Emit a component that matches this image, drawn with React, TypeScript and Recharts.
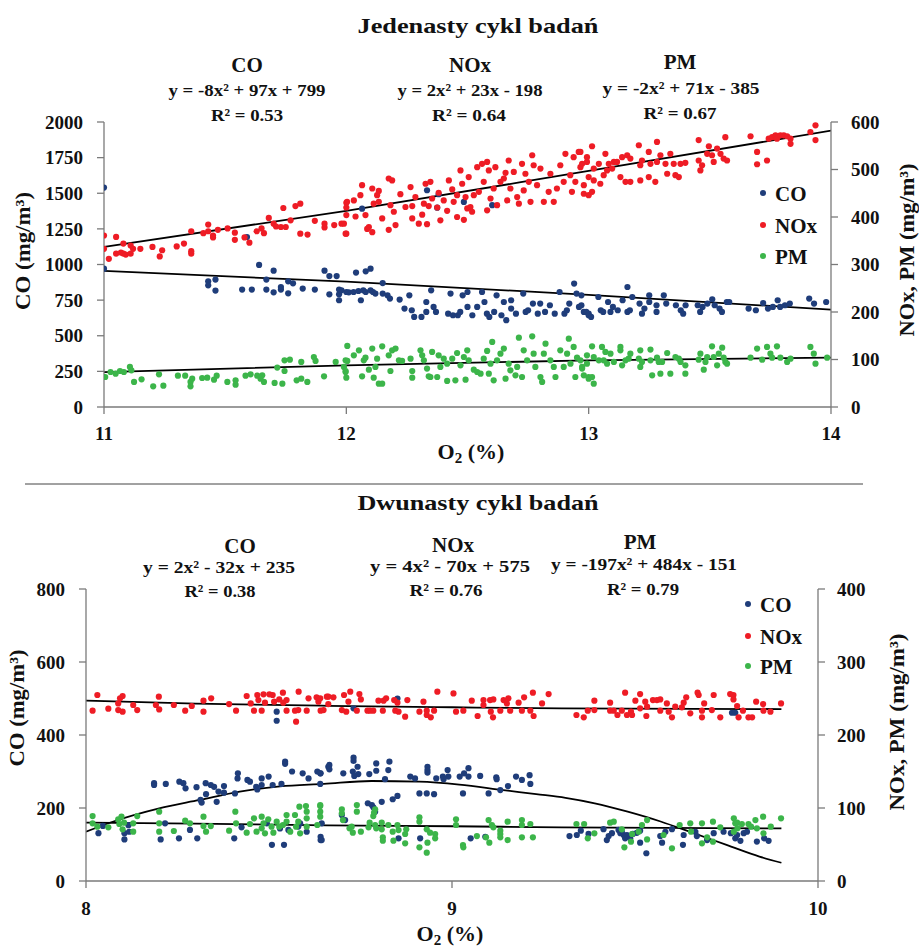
import React from 'react';
import { ComposedChart, Scatter, Line, XAxis, YAxis } from 'recharts';

type P = [number, number];

// ---------- Panel 1: Jedenasty cykl badań ----------
const topXTicks = [11, 12, 13, 14];
const topLeftTicks = [0, 250, 500, 750, 1000, 1250, 1500, 1750, 2000];
const topRightTicks = [0, 100, 200, 300, 400, 500, 600];

const topCO: P[] = [
  [11.0, 1540], [11.0, 971], [11.43, 882], [11.43, 854], [11.46, 894], [11.46, 817], [11.57, 824], [11.61, 824],
  [11.59, 1193], [11.64, 997], [11.67, 894], [11.67, 824], [11.7, 805], [11.7, 957], [11.73, 842], [11.73, 824],
  [11.76, 882], [11.76, 798], [11.78, 868], [11.82, 831], [11.87, 824], [11.91, 957], [11.93, 919], [11.93, 791],
  [11.96, 919], [11.97, 824], [11.97, 791], [11.97, 749], [12.01, 805],
  [12.04, 943], [12.08, 952], [12.1, 971], [11.98, 819], [12.0, 807], [12.03, 807], [12.05, 814], [12.06, 749],
  [12.07, 819], [12.08, 807], [12.1, 819], [12.11, 807], [12.12, 796], [12.15, 870], [12.15, 796], [12.17, 784],
  [12.18, 761], [12.22, 754], [12.24, 691], [12.26, 784], [12.27, 679], [12.28, 632], [12.31, 632], [12.33, 667],
  [12.33, 737], [12.35, 819], [12.36, 702], [12.37, 667], [12.42, 655], [12.43, 796], [12.44, 644], [12.46, 644],
  [12.47, 667], [12.48, 784], [12.5, 807], [12.5, 702], [12.52, 644], [12.54, 702], [12.56, 807], [12.57, 737],
  [12.58, 655], [12.59, 632], [12.61, 667], [12.62, 784], [12.64, 644], [12.65, 737], [12.66, 609], [12.68, 691],
  [12.68, 749], [12.7, 655], [12.73, 796], [12.74, 667], [12.75, 679], [12.77, 726], [12.79, 655], [12.8, 726],
  [12.82, 667], [12.84, 714], [12.86, 655], [12.88, 807], [12.9, 655], [12.91, 679], [12.92, 726], [12.94, 866],
  [12.95, 796], [12.96, 702], [12.98, 667], [13.0, 655],
  [12.065, 1392], [12.333, 1521], [12.381, 1493], [12.375, 1399], [12.485, 1439], [12.602, 1416],
  [12.97, 784], [12.97, 714], [12.99, 667], [13.0, 644], [13.01, 632], [13.04, 772], [13.05, 679], [13.06, 667],
  [13.08, 737], [13.09, 667], [13.1, 702], [13.12, 679], [13.14, 749], [13.16, 842], [13.16, 667], [13.17, 679],
  [13.18, 772], [13.21, 726], [13.22, 655], [13.23, 691], [13.25, 784], [13.25, 737], [13.28, 667], [13.28, 714],
  [13.31, 784], [13.32, 726], [13.36, 714], [13.38, 679], [13.39, 655], [13.4, 714], [13.45, 714], [13.46, 667],
  [13.47, 702], [13.49, 726], [13.51, 756], [13.52, 714], [13.54, 691], [13.55, 667], [13.57, 737], [13.58, 737],
  [13.66, 691], [13.69, 679], [13.72, 730], [13.74, 691], [13.76, 702], [13.78, 749], [13.79, 702], [13.81, 714],
  [13.83, 726], [13.91, 761], [13.93, 726], [13.98, 737],
];

const topNOx: P[] = [
  [11.0, 361], [11.0, 333], [11.02, 312], [11.05, 358], [11.05, 323], [11.07, 325], [11.08, 323], [11.09, 321],
  [11.08, 344], [11.11, 340], [11.11, 323], [11.12, 333], [11.15, 333], [11.2, 337], [11.23, 317], [11.24, 330],
  [11.3, 338], [11.33, 344], [11.36, 328], [11.36, 323], [11.36, 370], [11.41, 366], [11.43, 384], [11.43, 370],
  [11.45, 361], [11.45, 357], [11.47, 373], [11.51, 376], [11.54, 367], [11.54, 352], [11.58, 357], [11.6, 346],
  [11.63, 370], [11.65, 376], [11.66, 366], [11.68, 398], [11.7, 386], [11.71, 380], [11.73, 379], [11.74, 419],
  [11.75, 379], [11.77, 393], [11.79, 423], [11.81, 428], [11.81, 365], [11.84, 363], [11.87, 392], [11.91, 386],
  [11.91, 378], [11.95, 383], [11.98, 386], [12.0, 365], [12.0, 420], [12.0, 404], [12.0, 430],
  [11.997, 365], [11.99, 386], [12.003, 432], [12.031, 435], [12.038, 401], [12.058, 446], [12.065, 467], [12.079, 404],
  [12.086, 375], [12.093, 379], [12.107, 368], [12.107, 460], [12.113, 428], [12.127, 446], [12.134, 432], [12.134, 455],
  [12.148, 397], [12.175, 373], [12.182, 425], [12.175, 481], [12.189, 477], [12.196, 411], [12.203, 383], [12.223, 448],
  [12.244, 421], [12.265, 463], [12.272, 397], [12.272, 423], [12.285, 442], [12.299, 386], [12.313, 405], [12.32, 428],
  [12.327, 470], [12.333, 385], [12.34, 423], [12.347, 474], [12.354, 439], [12.375, 420], [12.381, 451], [12.388, 393],
  [12.402, 435], [12.416, 413], [12.423, 477], [12.437, 458], [12.443, 432], [12.457, 400], [12.457, 446], [12.471, 498],
  [12.478, 470], [12.485, 394], [12.492, 442], [12.499, 418], [12.505, 484], [12.512, 421], [12.519, 411], [12.526, 446],
  [12.54, 505], [12.547, 453], [12.56, 512], [12.567, 474], [12.581, 516], [12.581, 414], [12.588, 498], [12.595, 439],
  [12.608, 460], [12.615, 505], [12.622, 425], [12.636, 474], [12.65, 481], [12.657, 493], [12.664, 435], [12.67, 519],
  [12.677, 460], [12.691, 495], [12.705, 442], [12.712, 428], [12.725, 512], [12.732, 456], [12.739, 491], [12.753, 474],
  [12.76, 432], [12.767, 530], [12.773, 509], [12.787, 467], [12.801, 502], [12.815, 432], [12.835, 453], [12.842, 491],
  [12.856, 432], [12.869, 460], [12.883, 509], [12.897, 474], [12.904, 533], [12.924, 488], [12.931, 453], [12.938, 526],
  [12.945, 474], [12.959, 537], [12.966, 505], [12.98, 449], [12.993, 526], [13.0, 484],
  [12.966, 537], [12.973, 512], [12.98, 467], [12.993, 516], [13.0, 446], [13.014, 453], [13.021, 477], [13.014, 549],
  [13.021, 502], [13.042, 512], [13.048, 470], [13.062, 488], [13.069, 533], [13.076, 498], [13.083, 512], [13.097, 502],
  [13.104, 516], [13.117, 516], [13.131, 484], [13.138, 526], [13.152, 474], [13.159, 530], [13.172, 523], [13.172, 474],
  [13.207, 551], [13.213, 477], [13.213, 509], [13.22, 519], [13.248, 537], [13.248, 484], [13.255, 512], [13.275, 474],
  [13.282, 558], [13.282, 516], [13.296, 530], [13.317, 512], [13.324, 491], [13.337, 533], [13.351, 512], [13.358, 488],
  [13.372, 484], [13.379, 512], [13.399, 514], [13.454, 562], [13.454, 519], [13.461, 498], [13.468, 509], [13.489, 533],
  [13.496, 549], [13.509, 530], [13.516, 516], [13.53, 544], [13.544, 533], [13.557, 523], [13.564, 568], [13.571, 519],
  [13.668, 570], [13.695, 537], [13.695, 511], [13.736, 519], [13.743, 565], [13.757, 568], [13.771, 572], [13.777, 565],
  [13.791, 572], [13.805, 572], [13.819, 570], [13.833, 565], [13.833, 554], [13.915, 579], [13.936, 593], [13.936, 562],
];

const topPM: P[] = [
  [11.005, 63.2], [11.027, 73.7], [11.048, 70.2], [11.066, 75.8], [11.082, 73.7], [11.107, 84.3], [11.113, 77.3],
  [11.124, 52.7], [11.155, 58.3], [11.203, 43.6], [11.227, 68.8], [11.245, 45.0], [11.305, 66.0], [11.335, 66.0],
  [11.357, 52.7], [11.357, 43.6], [11.364, 59.7], [11.405, 61.1], [11.426, 61.8], [11.454, 57.6], [11.465, 66.0],
  [11.509, 52.7], [11.543, 56.2], [11.543, 47.1], [11.584, 66.0], [11.605, 68.8], [11.632, 66.0], [11.646, 59.7],
  [11.653, 66.7], [11.66, 52.7], [11.704, 50.6], [11.715, 82.9], [11.736, 49.2], [11.745, 75.8], [11.745, 98.3],
  [11.767, 99.7], [11.795, 56.2], [11.814, 59.7], [11.814, 94.8], [11.839, 52.7], [11.866, 105.3], [11.873, 96.9],
  [11.908, 64.6], [11.956, 94.8], [11.99, 84.3], [11.997, 73.7], [12.0, 61.8], [12.004, 96.9], [12.004, 128.5],
  [11.997, 98.3], [11.997, 75.8], [12.031, 108.8], [12.052, 119.4], [12.065, 64.6], [12.072, 98.3], [12.079, 103.9],
  [12.093, 78.6], [12.107, 122.9], [12.113, 61.8], [12.12, 84.3], [12.127, 101.8], [12.134, 49.2], [12.148, 127.8],
  [12.148, 49.2], [12.175, 108.8], [12.182, 75.8], [12.189, 119.4], [12.203, 122.9], [12.217, 98.3], [12.23, 96.9],
  [12.265, 101.8], [12.272, 75.8], [12.272, 61.8], [12.306, 119.4], [12.313, 108.8], [12.32, 98.3], [12.333, 80.8],
  [12.34, 64.6], [12.347, 63.2], [12.354, 115.9], [12.375, 63.2], [12.381, 108.8], [12.388, 84.3], [12.402, 101.8],
  [12.416, 91.3], [12.416, 54.8], [12.437, 101.8], [12.45, 56.2], [12.457, 113.7], [12.471, 87.8], [12.485, 105.3],
  [12.492, 57.6], [12.499, 119.4], [12.505, 98.3], [12.526, 78.6], [12.54, 73.7], [12.554, 70.2], [12.567, 101.8],
  [12.581, 118.0], [12.588, 70.2], [12.595, 91.3], [12.602, 136.9], [12.608, 56.2], [12.622, 98.3], [12.636, 112.3],
  [12.65, 122.9], [12.657, 59.7], [12.67, 91.3], [12.677, 77.3], [12.698, 66.7], [12.705, 84.3], [12.712, 146.0],
  [12.725, 63.2], [12.732, 119.4], [12.746, 98.3], [12.767, 148.8], [12.773, 112.3], [12.78, 84.3], [12.801, 63.2],
  [12.808, 52.7], [12.815, 112.3], [12.822, 133.4], [12.842, 98.3], [12.856, 84.3], [12.863, 63.2], [12.883, 119.4],
  [12.897, 84.3], [12.911, 112.3], [12.918, 143.9], [12.925, 91.3], [12.938, 126.4], [12.945, 63.2], [12.952, 103.9],
  [12.973, 84.3], [12.993, 108.8], [13.0, 63.2],
  [12.966, 98.3], [12.973, 80.8], [12.98, 66.7], [12.993, 91.3], [13.0, 59.7], [13.014, 127.8], [13.014, 63.2],
  [13.021, 49.2], [13.021, 105.3], [13.042, 98.3], [13.055, 126.4], [13.062, 98.3], [13.069, 115.9], [13.076, 91.3],
  [13.09, 112.3], [13.104, 94.8], [13.131, 126.4], [13.131, 119.4], [13.138, 87.8], [13.152, 98.3], [13.165, 101.8],
  [13.172, 112.3], [13.207, 101.8], [13.213, 119.4], [13.213, 84.3], [13.22, 94.8], [13.255, 120.8], [13.255, 98.3],
  [13.262, 66.7], [13.282, 103.9], [13.289, 94.8], [13.296, 70.2], [13.303, 94.8], [13.324, 113.7], [13.337, 70.2],
  [13.358, 105.3], [13.372, 101.8], [13.379, 94.8], [13.399, 70.2], [13.399, 87.8], [13.454, 99.7], [13.461, 112.3],
  [13.475, 78.6], [13.482, 94.8], [13.489, 105.3], [13.509, 127.8], [13.516, 105.3], [13.53, 87.8], [13.537, 112.3],
  [13.551, 125.0], [13.557, 103.9], [13.564, 94.8], [13.571, 91.3], [13.668, 103.9], [13.695, 122.9], [13.716, 99.7],
  [13.736, 126.4], [13.75, 112.3], [13.757, 103.9], [13.777, 127.8], [13.791, 103.9], [13.819, 94.8], [13.833, 101.8],
  [13.915, 126.4], [13.929, 112.3], [13.936, 91.3], [13.984, 103.9],
];

const topCOTrend: P[] = [[11, 955], [12, 880], [13, 787], [14, 683]];
const topNOxTrend: P[] = [[11, 337], [12, 413], [13, 497], [14, 582]];
const topPMTrend: P[] = [[11, 73.5], [12, 87.5], [13, 98.3], [14, 104]];

// ---------- Panel 2: Dwunasty cykl badań ----------
const botXTicks = [8, 9, 10];
const botLeftTicks = [0, 200, 400, 600, 800];
const botRightTicks = [0, 100, 200, 300, 400];

const botCO: P[] = [
  [8.034, 131], [8.046, 151], [8.105, 131], [8.105, 114], [8.116, 153], [8.118, 135], [8.186, 268], [8.186, 263],
  [8.204, 114], [8.218, 266], [8.216, 158], [8.254, 117], [8.255, 272], [8.266, 268], [8.272, 254], [8.284, 140],
  [8.302, 257], [8.304, 117], [8.313, 222], [8.316, 215], [8.327, 268], [8.328, 238], [8.341, 263], [8.35, 258],
  [8.357, 217], [8.362, 245], [8.377, 242], [8.377, 260], [8.405, 117], [8.407, 240], [8.414, 281], [8.415, 295],
  [8.425, 147], [8.441, 277], [8.448, 272], [8.465, 258], [8.468, 251], [8.48, 281], [8.48, 263], [8.494, 158],
  [8.499, 286], [8.508, 99], [8.51, 263], [8.53, 144], [8.534, 266], [8.541, 99], [8.544, 327], [8.544, 321],
  [8.553, 140], [8.563, 300], [8.58, 149], [8.585, 158], [8.592, 295], [8.603, 135], [8.608, 281], [8.632, 300],
  [8.64, 266], [8.641, 295], [8.641, 121], [8.641, 112], [8.662, 313], [8.521, 464], [8.521, 439],
  [8.64, 295], [8.644, 158], [8.644, 112], [8.665, 318], [8.665, 306], [8.703, 295], [8.699, 181], [8.708, 167],
  [8.729, 300], [8.731, 338], [8.731, 329], [8.733, 288], [8.742, 313], [8.744, 293], [8.77, 213], [8.774, 293],
  [8.781, 208], [8.785, 202], [8.79, 190], [8.793, 322], [8.793, 302], [8.808, 217], [8.817, 279], [8.826, 304],
  [8.829, 327], [8.838, 224], [8.851, 233], [8.854, 117], [8.886, 286], [8.899, 281], [8.911, 240], [8.913, 117],
  [8.931, 240], [8.933, 313], [8.933, 304], [8.933, 297], [8.951, 238], [8.957, 281], [8.975, 286], [8.977, 279],
  [8.988, 304], [8.99, 286], [9.021, 286], [9.03, 240], [9.033, 295], [9.045, 309], [9.045, 286], [9.051, 117],
  [9.077, 288], [9.091, 121], [9.1, 240], [9.121, 284], [9.122, 279], [9.132, 249], [9.153, 260], [9.175, 286],
  [9.191, 277], [9.212, 290], [9.214, 266], [8.731, 473], [8.851, 500],
  [9.321, 123], [9.341, 126], [9.352, 138], [9.373, 129], [9.414, 142], [9.423, 112], [9.428, 123], [9.437, 131],
  [9.455, 140], [9.46, 131], [9.464, 135], [9.469, 126], [9.473, 117], [9.478, 126], [9.487, 117], [9.494, 129],
  [9.505, 132], [9.514, 138], [9.514, 105], [9.531, 76], [9.569, 123], [9.574, 105], [9.583, 135], [9.601, 142],
  [9.633, 126], [9.631, 99], [9.665, 135], [9.669, 123], [9.697, 117], [9.697, 112], [9.715, 131], [9.742, 135],
  [9.762, 131], [9.765, 461], [9.774, 461], [9.774, 117], [9.779, 126], [9.788, 110], [9.797, 131], [9.806, 135],
  [9.833, 108], [9.853, 117], [9.865, 110],
];

const botNOx: P[] = [
  [8.018, 233.3], [8.031, 254.8], [8.061, 236.0], [8.088, 234.2], [8.088, 243.3], [8.093, 250.2], [8.1, 253.4],
  [8.1, 231.9], [8.129, 241.1], [8.14, 234.2], [8.191, 241.1], [8.199, 252.5], [8.2, 235.1], [8.24, 241.1],
  [8.271, 233.3], [8.289, 239.7], [8.321, 247.0], [8.321, 231.9], [8.342, 250.2], [8.391, 242.4], [8.41, 233.3],
  [8.439, 253.4], [8.45, 243.3], [8.459, 233.3], [8.468, 254.8], [8.471, 247.9], [8.48, 233.3], [8.485, 255.7],
  [8.489, 244.3], [8.501, 255.7], [8.51, 254.8], [8.514, 245.6], [8.528, 248.8], [8.538, 258.0], [8.539, 244.3],
  [8.548, 247.9], [8.548, 233.3], [8.571, 233.3], [8.574, 218.2], [8.58, 234.2], [8.581, 259.3], [8.603, 233.3],
  [8.608, 250.2], [8.63, 251.6], [8.635, 245.6], [8.641, 233.3], [8.658, 252.5], [8.662, 242.4],
  [8.64, 250.2], [8.649, 234.2], [8.662, 252.5], [8.676, 251.6], [8.699, 234.2], [8.705, 254.8], [8.711, 231.9],
  [8.717, 245.6], [8.722, 259.3], [8.74, 233.3], [8.747, 256.1], [8.751, 248.8], [8.769, 233.3], [8.776, 233.3],
  [8.785, 233.3], [8.799, 247.0], [8.811, 233.3], [8.813, 247.0], [8.82, 250.2], [8.842, 247.9], [8.845, 233.3],
  [8.851, 244.3], [8.854, 231.9], [8.872, 225.1], [8.878, 247.9], [8.911, 231.9], [8.922, 245.6], [8.931, 233.3],
  [8.931, 227.4], [8.942, 224.2], [8.951, 233.3], [8.96, 259.3], [9.004, 257.0], [9.011, 231.9], [9.031, 233.3],
  [9.054, 247.0], [9.07, 226.0], [9.086, 247.9], [9.086, 241.1], [9.104, 247.9], [9.106, 231.9], [9.112, 224.2],
  [9.113, 248.8], [9.132, 233.3], [9.141, 247.9], [9.15, 243.3], [9.154, 250.2], [9.159, 233.3], [9.182, 244.3],
  [9.191, 233.3], [9.197, 251.6], [9.214, 233.3], [9.221, 258.0], [9.223, 226.0], [9.246, 243.3], [9.264, 256.1],
  [9.34, 227.4], [9.36, 224.2], [9.371, 233.3], [9.389, 234.2], [9.389, 247.0], [9.432, 244.3], [9.432, 233.3],
  [9.442, 233.3], [9.452, 227.4], [9.464, 233.3], [9.473, 258.0], [9.478, 227.4], [9.489, 231.9], [9.492, 227.4],
  [9.501, 247.0], [9.514, 256.1], [9.514, 236.5], [9.528, 245.6], [9.531, 226.0], [9.533, 238.8], [9.549, 247.9],
  [9.56, 247.9], [9.569, 248.8], [9.569, 233.3], [9.587, 243.3], [9.592, 231.9], [9.601, 224.2], [9.61, 238.8],
  [9.628, 237.9], [9.633, 244.3], [9.64, 251.6], [9.651, 229.7], [9.671, 258.0], [9.674, 254.8], [9.683, 233.3],
  [9.683, 224.2], [9.689, 243.3], [9.71, 234.2], [9.715, 254.8], [9.733, 224.2], [9.76, 256.1], [9.769, 254.8],
  [9.769, 248.8], [9.779, 239.7], [9.783, 224.2], [9.795, 233.3], [9.81, 224.2], [9.82, 224.2], [9.831, 245.6],
  [9.85, 242.4], [9.851, 233.3], [9.87, 231.9], [9.899, 243.3],
];

const botPM: P[] = [
  [8.018, 89.0], [8.018, 79.0], [8.031, 74.4], [8.061, 73.5], [8.088, 84.5], [8.091, 78.1], [8.097, 88.1],
  [8.1, 70.8], [8.104, 79.9], [8.129, 79.0], [8.129, 67.6], [8.14, 89.0], [8.2, 95.0], [8.2, 79.0], [8.2, 67.6],
  [8.24, 68.5], [8.271, 82.6], [8.284, 79.0], [8.321, 88.1], [8.321, 75.3], [8.328, 67.6], [8.341, 75.3],
  [8.391, 68.9], [8.408, 95.0], [8.41, 79.0], [8.439, 66.2], [8.448, 78.1], [8.459, 85.8], [8.466, 67.6],
  [8.48, 88.1], [8.48, 72.1], [8.485, 79.0], [8.489, 65.3], [8.498, 84.5], [8.507, 74.4], [8.512, 66.2],
  [8.521, 81.3], [8.528, 74.4], [8.538, 76.7], [8.548, 90.4], [8.548, 81.3], [8.558, 67.6], [8.571, 90.4],
  [8.574, 74.4], [8.58, 81.3], [8.583, 101.8], [8.585, 65.3], [8.601, 102.7], [8.603, 95.0], [8.603, 85.8],
  [8.603, 74.4], [8.632, 76.7], [8.64, 102.7], [8.64, 95.0], [8.64, 88.1],
  [8.64, 104.1], [8.699, 98.2], [8.699, 92.7], [8.702, 83.5], [8.72, 72.1], [8.726, 74.4], [8.729, 66.2],
  [8.74, 104.1], [8.74, 95.0], [8.751, 67.6], [8.772, 73.5], [8.775, 79.9], [8.785, 89.0], [8.787, 93.6],
  [8.79, 98.2], [8.79, 76.7], [8.793, 72.1], [8.808, 79.9], [8.808, 70.8], [8.811, 59.8], [8.811, 55.2],
  [8.826, 76.7], [8.838, 67.6], [8.84, 55.2], [8.851, 76.7], [8.854, 69.8], [8.872, 64.4], [8.875, 70.8],
  [8.872, 51.6], [8.911, 87.2], [8.911, 81.3], [8.911, 46.1], [8.931, 70.8], [8.933, 52.5], [8.931, 38.8],
  [8.94, 66.2], [8.954, 64.4], [8.954, 58.4], [9.011, 84.5], [9.011, 76.7], [9.03, 49.3], [9.031, 46.1],
  [9.068, 61.6], [9.093, 59.8], [9.1, 83.5], [9.102, 52.5], [9.109, 76.7], [9.113, 73.5], [9.132, 68.9],
  [9.132, 64.4], [9.132, 59.8], [9.152, 81.3], [9.152, 56.1], [9.191, 83.5], [9.191, 76.7], [9.191, 59.8],
  [9.214, 78.1], [9.221, 59.8],
  [9.34, 78.1], [9.361, 78.1], [9.371, 58.4], [9.389, 65.3], [9.432, 79.9], [9.442, 81.3], [9.464, 70.8],
  [9.471, 46.1], [9.489, 53.9], [9.492, 64.4], [9.51, 67.6], [9.519, 76.7], [9.533, 83.5], [9.533, 57.0],
  [9.578, 63.0], [9.601, 44.7], [9.622, 76.7], [9.651, 79.0], [9.653, 67.6], [9.683, 79.0], [9.683, 51.6],
  [9.697, 59.8], [9.713, 81.3], [9.713, 53.9], [9.733, 73.5], [9.77, 85.8], [9.77, 67.6], [9.774, 79.0],
  [9.779, 79.9], [9.78, 72.1], [9.792, 78.1], [9.81, 78.1], [9.817, 74.4], [9.829, 83.5], [9.833, 72.1],
  [9.85, 88.1], [9.851, 65.3], [9.871, 74.4], [9.899, 85.8],
];

const botCOTrend: P[] = [
  [8.0, 135], [8.075, 163], [8.2, 199], [8.31, 222], [8.42, 245], [8.53, 259], [8.65, 266], [8.78, 274],
  [8.91, 272], [9.02, 264], [9.14, 249], [9.23, 238], [9.31, 228], [9.39, 213], [9.48, 190], [9.57, 163],
  [9.66, 131], [9.75, 99], [9.84, 67], [9.9, 50],
];
const botNOxTrend: P[] = [[8.0, 247], [8.3, 243], [8.66, 240], [9.0, 238], [9.3, 236.5], [9.9, 235.5]];
const botPMTrend: P[] = [[8.0, 80], [8.3, 78.5], [8.66, 76.3], [9.0, 75], [9.3, 73.5], [9.9, 72]];

// ---------- styling ----------
const FONT = '"Liberation Serif", "Times New Roman", serif';
const AX = '#7a7a7a';
const BLUE = '#1f3d7a';
const RED = '#ee1c25';
const GREEN = '#3cb54a';

const toPts = (arr: P[]) => arr.map(([x, y]) => ({ x, y }));
const dot = (color: string) => (props: any) =>
  props.cx == null ? <g /> : <circle cx={props.cx} cy={props.cy} r={3.1} fill={color} />;

const tickStyle = { fontFamily: FONT, fontSize: 19, fontWeight: 700, fill: '#111' };

interface PanelProps {
  top: number;
  height: number;
  margin: { top: number; right: number; bottom: number; left: number };
  xDomain: [number, number];
  xTicks: number[];
  lDomain: [number, number];
  lTicks: number[];
  rDomain: [number, number];
  rTicks: number[];
  co: P[];
  nox: P[];
  pm: P[];
  coT: P[];
  noxT: P[];
  pmT: P[];
  lMargin: number;
  rMargin: number;
  xMargin: number;
}

const Panel = (p: PanelProps) => (
  <div style={{ position: 'absolute', left: 0, top: p.top }}>
    <ComposedChart width={919} height={p.height} margin={p.margin}>
      <XAxis type="number" dataKey="x" domain={p.xDomain} ticks={p.xTicks} allowDataOverflow
        height={30} tickSize={7} tickMargin={p.xMargin} axisLine={{ stroke: AX, strokeWidth: 1.3 }}
        tickLine={{ stroke: AX, strokeWidth: 1.3 }} tick={tickStyle} />
      <YAxis yAxisId="l" type="number" dataKey="y" domain={p.lDomain} ticks={p.lTicks} allowDataOverflow
        width={60} tickSize={7} tickMargin={p.lMargin} axisLine={{ stroke: AX, strokeWidth: 1.3 }}
        tickLine={{ stroke: AX, strokeWidth: 1.3 }} tick={tickStyle} interval={0} />
      <YAxis yAxisId="r" orientation="right" type="number" dataKey="y" domain={p.rDomain} ticks={p.rTicks}
        allowDataOverflow width={60} tickSize={7} tickMargin={p.rMargin} axisLine={{ stroke: AX, strokeWidth: 1.3 }}
        tickLine={{ stroke: AX, strokeWidth: 1.3 }} tick={{ ...tickStyle, textAnchor: 'start' }} interval={0} />
      <Scatter yAxisId="l" data={toPts(p.co)} shape={dot(BLUE)} isAnimationActive={false} />
      <Scatter yAxisId="r" data={toPts(p.nox)} shape={dot(RED)} isAnimationActive={false} />
      <Scatter yAxisId="r" data={toPts(p.pm)} shape={dot(GREEN)} isAnimationActive={false} />
      <Line yAxisId="l" data={toPts(p.coT)} dataKey="y" type="monotone" stroke="#000" strokeWidth={1.8}
        dot={false} activeDot={false} isAnimationActive={false} />
      <Line yAxisId="r" data={toPts(p.noxT)} dataKey="y" type="monotone" stroke="#000" strokeWidth={1.8}
        dot={false} activeDot={false} isAnimationActive={false} />
      <Line yAxisId="r" data={toPts(p.pmT)} dataKey="y" type="monotone" stroke="#000" strokeWidth={1.8}
        dot={false} activeDot={false} isAnimationActive={false} />
    </ComposedChart>
  </div>
);

const T = (props: any) => (
  <text fontFamily={FONT} fontWeight={700} fill="#111" textAnchor="middle" {...props} />
);

const Legend = ({ x, y0, gap }: { x: number; y0: number; gap: number[] }) => {
  const items: [string, string][] = [['CO', BLUE], ['NOx', RED], ['PM', GREEN]];
  return (
    <g>
      {items.map(([name, c], i) => (
        <g key={name}>
          <circle cx={x} cy={y0 + gap[i]} r={3} fill={c} />
          <text x={x + 12} y={y0 + gap[i] + 7.5} fontFamily={FONT} fontWeight={700} fontSize={21} fill="#111">
            {name}
          </text>
        </g>
      ))}
    </g>
  );
};

const XLabel = ({ x, y }: { x: number; y: number }) => (
  <text x={x} y={y} fontFamily={FONT} fontWeight={700} fontSize={22} fill="#111" textAnchor="middle">
    O<tspan dy={4} fontSize={15}>2</tspan><tspan dy={-4}> (%)</tspan>
  </text>
);

const VLabel = ({ x, y, text, len }: { x: number; y: number; text: string; len: number }) => (
  <text x={x} y={y} transform={`rotate(-90 ${x} ${y})`} fontFamily={FONT} fontWeight={700} fontSize={22}
    fill="#111" textAnchor="middle" dominantBaseline="central" textLength={len} lengthAdjust="spacingAndGlyphs">
    {text}
  </text>
);

export default function App() {
  return (
    <div style={{ position: 'absolute', left: 0, top: 0, width: 919, height: 949, background: '#fff', overflow: 'hidden' }}>
      <Panel top={0} height={470} margin={{ top: 122, right: 28, bottom: 33, left: 44 }}
        xDomain={[11, 14]} xTicks={topXTicks} lDomain={[0, 2000]} lTicks={topLeftTicks}
        rDomain={[0, 600]} rTicks={topRightTicks} co={topCO} nox={topNOx} pm={topPM}
        coT={topCOTrend} noxT={topNOxTrend} pmT={topPMTrend} lMargin={14} rMargin={13} xMargin={13} />
      <Panel top={470} height={479} margin={{ top: 119, right: 41, bottom: 38, left: 26 }}
        xDomain={[8, 10]} xTicks={botXTicks} lDomain={[0, 800]} lTicks={botLeftTicks}
        rDomain={[0, 400]} rTicks={botRightTicks} co={botCO} nox={botNOx} pm={botPM}
        coT={botCOTrend} noxT={botNOxTrend} pmT={botPMTrend} lMargin={14} rMargin={12} xMargin={14} />
      <svg width={919} height={949} style={{ position: 'absolute', left: 0, top: 0, pointerEvents: 'none' }}>
        {/* top panel texts */}
        <T x={478} y={33} fontSize={22} textLength={241} lengthAdjust="spacingAndGlyphs">Jedenasty cykl badań</T>
        <T x={247} y={72} fontSize={21}>CO</T>
        <T x={247} y={96} fontSize={17} textLength={157} lengthAdjust="spacingAndGlyphs">y = -8x² + 97x + 799</T>
        <T x={247} y={121} fontSize={17} textLength={72} lengthAdjust="spacingAndGlyphs">R² = 0.53</T>
        <T x={470} y={72} fontSize={21}>NOx</T>
        <T x={470} y={96} fontSize={17} textLength={145} lengthAdjust="spacingAndGlyphs">y = 2x² + 23x - 198</T>
        <T x={469} y={121} fontSize={17} textLength={74} lengthAdjust="spacingAndGlyphs">R² = 0.64</T>
        <T x={680} y={69} fontSize={21}>PM</T>
        <T x={681} y={94} fontSize={17} textLength={157} lengthAdjust="spacingAndGlyphs">y = -2x² + 71x - 385</T>
        <T x={680} y={119} fontSize={17} textLength={73} lengthAdjust="spacingAndGlyphs">R² = 0.67</T>
        <Legend x={763} y0={193} gap={[0, 32, 63]} />
        <VLabel x={22.5} y={251} text="CO (mg/m³)" len={118} />
        <VLabel x={906} y={250} text="NOx, PM (mg/m³)" len={173} />
        <XLabel x={471} y={459} />
        {/* separator */}
        <line x1={25} y1={484} x2={863} y2={484} stroke="#444" strokeWidth={1} />
        {/* bottom panel texts */}
        <T x={478} y={510} fontSize={22} textLength={241} lengthAdjust="spacingAndGlyphs">Dwunasty cykl badań</T>
        <T x={240} y={553} fontSize={21}>CO</T>
        <T x={219} y={573} fontSize={17} textLength={152} lengthAdjust="spacingAndGlyphs">y = 2x² - 32x + 235</T>
        <T x={220} y={597} fontSize={17} textLength={71} lengthAdjust="spacingAndGlyphs">R² = 0.38</T>
        <T x={453} y={552} fontSize={21}>NOx</T>
        <T x={450} y={572} fontSize={17} textLength={160} lengthAdjust="spacingAndGlyphs">y = 4x² - 70x + 575</T>
        <T x={446} y={596} fontSize={17} textLength={73} lengthAdjust="spacingAndGlyphs">R² = 0.76</T>
        <T x={640} y={549} fontSize={21}>PM</T>
        <T x={644} y={570} fontSize={17} textLength={186} lengthAdjust="spacingAndGlyphs">y = -197x² + 484x - 151</T>
        <T x={643} y={595} fontSize={17} textLength={72} lengthAdjust="spacingAndGlyphs">R² = 0.79</T>
        <Legend x={748} y0={604} gap={[0, 32, 62]} />
        <VLabel x={16} y={708} text="CO (mg/m³)" len={117} />
        <VLabel x={896} y={722} text="NOx, PM (mg/m³)" len={177} />
        <XLabel x={450} y={941} />
      </svg>
    </div>
  );
}
